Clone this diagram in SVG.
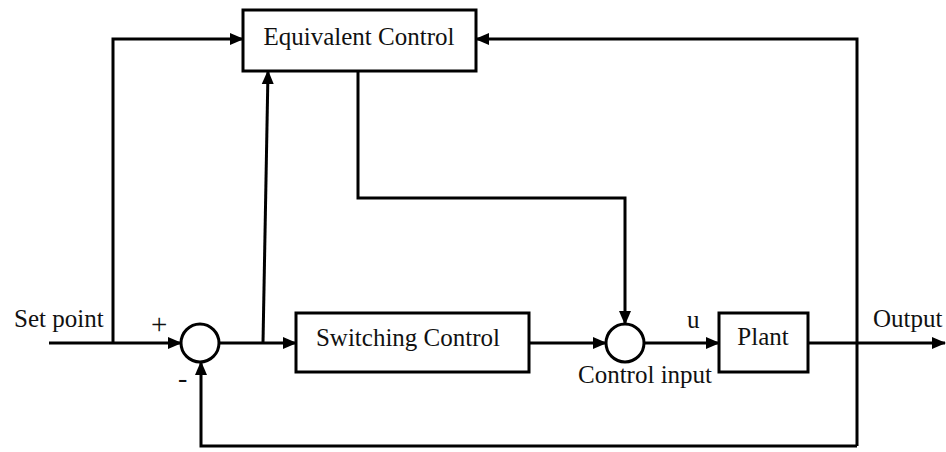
<svg xmlns="http://www.w3.org/2000/svg" width="946" height="452" viewBox="0 0 946 452">
<defs>
<style>
.box{fill:#fff;stroke:#000;stroke-width:3}
.sum{fill:#fff;stroke:#000;stroke-width:3}
.ln{fill:none;stroke:#000;stroke-width:3;stroke-linejoin:miter}
.arr{marker-end:url(#ah)}
.t{font-family:'Liberation Serif','Times New Roman',Tinos,serif;font-size:25px;fill:#111}
</style>
<marker id="ah" markerUnits="userSpaceOnUse" markerWidth="14" markerHeight="14" viewBox="0 0 14 14" refX="13" refY="7" orient="auto">
<path d="M0,1 L14,7 L0,13 Z" fill="#000"/>
</marker>
</defs>
<rect width="946" height="452" fill="#fff"/>
<g id="connectors">
<path class="ln arr" d="M49,343 L181,343"/>
<path class="ln arr" d="M113,343 L113,39 L243,39"/>
<path class="ln arr" d="M219,343 L296,343"/>
<path class="ln arr" d="M263,343 L268,71"/>
<path class="ln arr" d="M358,71 L358,198 L625,198 L625,324"/>
<path class="ln arr" d="M529,343 L606,343"/>
<path class="ln arr" d="M644,343 L719,343"/>
<path class="ln arr" d="M808,343 L945,343"/>
<path class="ln arr" d="M857,446 L857,39 L476,39"/>
<path class="ln arr" d="M857,446 L201,446 L201,362"/>
</g>
<g id="equivalent-control">
<rect class="box" x="243" y="10" width="233" height="61"/>
<text class="t" x="359" y="45" text-anchor="middle">Equivalent Control</text>
</g>
<g id="sum1">
<circle class="sum" cx="200" cy="343" r="19"/>
<text class="t" x="151" y="334" style="font-size:29px">+</text>
<text class="t" x="178" y="387" style="font-size:28px">-</text>
</g>
<g id="switching-control">
<rect class="box" x="296" y="313" width="233" height="59"/>
<text class="t" x="408" y="346" text-anchor="middle">Switching Control</text>
</g>
<g id="sum2">
<circle class="sum" cx="625" cy="343" r="19"/>
<text class="t" x="578" y="383">Control input</text>
</g>
<g id="plant">
<rect class="box" x="719" y="313" width="89" height="59"/>
<text class="t" x="763" y="345" text-anchor="middle">Plant</text>
</g>
<g id="labels">
<text class="t" x="14" y="327">Set point</text>
<text class="t" x="687" y="328">u</text>
<text class="t" x="873" y="327">Output</text>
</g>
</svg>
